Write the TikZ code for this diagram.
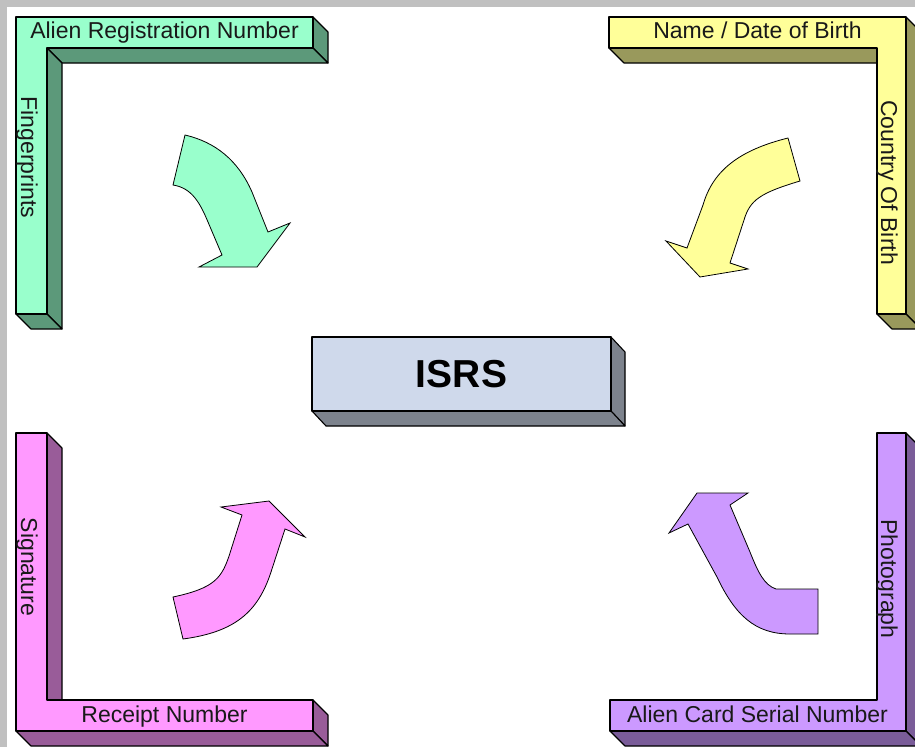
\documentclass[tikz,border=0pt]{standalone}
\usepackage{fontspec}
\setmainfont{Liberation Sans}
% face and side colours of the extruded bars
\definecolor{frameGray}{HTML}{C0C0C0}
\definecolor{mintFace}{HTML}{99FFCC}
\definecolor{mintSide}{HTML}{5C997A}
\definecolor{lemonFace}{HTML}{FFFF99}
\definecolor{lemonSide}{HTML}{99995C}
\definecolor{pinkFace}{HTML}{FF99FF}
\definecolor{pinkSide}{HTML}{995C99}
\definecolor{lilacFace}{HTML}{CC99FF}
\definecolor{lilacSide}{HTML}{7A5C99}
\definecolor{hubFace}{HTML}{CFD9EB}
\definecolor{hubSide}{HTML}{7D838D}
\begin{document}
\begin{tikzpicture}[x=1pt,y=-1pt,
  face/.style={draw=black, line width=1.1pt, line join=round},
  blockarrow/.style={draw=black, line width=0.8pt, line join=miter},
  barlabel/.style={font=\fontsize{23}{27}\selectfont, text=black!90, inner sep=0pt, anchor=base},
  hublabel/.style={font=\fontsize{39}{46}\selectfont\bfseries, text=black, inner sep=0pt}]
\useasboundingbox (0,0) rectangle (915,747);
\clip (0,0) rectangle (915,747);
\fill[frameGray] (0,0) rectangle (915,747);
\fill[white] (7,7) rectangle (915,747);

% ---------- top-left bar (green) ----------
\filldraw[face, fill=mintSide] (313,17) -- (328,32) -- (328,63) -- (313,48) -- cycle;
\filldraw[face, fill=mintSide] (47,48) -- (313,48) -- (328,63) -- (62,63) -- cycle;
\filldraw[face, fill=mintSide] (47,48) -- (62,63) -- (62,329) -- (47,314) -- cycle;
\filldraw[face, fill=mintSide] (16,314) -- (47,314) -- (62,329) -- (31,329) -- cycle;
\filldraw[face, fill=mintFace] (16,17) -- (313,17) -- (313,48) -- (47,48) -- (47,314) -- (16,314) -- cycle;
\node[barlabel] (arn) at (164.5,38.5) {Alien Registration Number};
\node[barlabel, rotate=-90] (fp) at (21,157.5) {Fingerprints};

% ---------- top-right bar (yellow) ----------
\filldraw[face, fill=lemonSide] (609,48) -- (877,48) -- (892,63) -- (624,63) -- cycle;
\filldraw[face, fill=lemonSide] (906,17) -- (921,32) -- (921,329) -- (906,314) -- cycle;
\filldraw[face, fill=lemonSide] (877,314) -- (906,314) -- (921,329) -- (892,329) -- cycle;
\filldraw[face, fill=lemonFace] (609,17) -- (906,17) -- (906,314) -- (877,314) -- (877,48) -- (609,48) -- cycle;
\node[barlabel] (ndob) at (757.5,38.5) {Name / Date of Birth};
\node[barlabel, rotate=-90] (cob) at (881,182.5) {Country Of Birth};

% ---------- bottom-left bar (pink) ----------
\filldraw[face, fill=pinkSide] (47,433) -- (62,448) -- (62,715) -- (47,700) -- cycle;
\filldraw[face, fill=pinkSide] (313,700) -- (328,715) -- (328,746) -- (313,731) -- cycle;
\filldraw[face, fill=pinkSide] (16,731) -- (313,731) -- (328,746) -- (31,746) -- cycle;
\filldraw[face, fill=pinkFace] (16,433) -- (47,433) -- (47,700) -- (313,700) -- (313,731) -- (16,731) -- cycle;
\node[barlabel] (rcpt) at (164.5,722) {Receipt Number};
\node[barlabel, rotate=-90] (sig) at (21,567) {Signature};

% ---------- bottom-right bar (purple) ----------
\filldraw[face, fill=lilacSide] (906,433) -- (921,448) -- (921,746) -- (906,731) -- cycle;
\filldraw[face, fill=lilacSide] (610,731) -- (906,731) -- (921,746) -- (625,746) -- cycle;
\filldraw[face, fill=lilacFace] (877,433) -- (906,433) -- (906,731) -- (610,731) -- (610,700) -- (877,700) -- cycle;
\node[barlabel] (acsn) at (757.5,722) {Alien Card Serial Number};
\node[barlabel, rotate=-90] (photo) at (881,579) {Photograph};

% ---------- central block ----------
\filldraw[face, fill=hubSide] (611,337) -- (625,352) -- (625,426) -- (611,411) -- cycle;
\filldraw[face, fill=hubSide] (312,411) -- (611,411) -- (625,426) -- (326,426) -- cycle;
\filldraw[face, fill=hubFace] (312,337) rectangle (611,411);
\node[hublabel] (isrs) at (461.5,374) {ISRS};

% ---------- curved block arrows ----------
\filldraw[blockarrow, fill=mintFace]
  (185,135) .. controls (215,142) and (238,160) .. (252,192) -- (268,232)
  -- (290,223) -- (257,267) -- (199,267) -- (222,255) -- (208,222)
  .. controls (200,203) and (192,188) .. (173,185) -- cycle;

\filldraw[blockarrow, fill=lemonFace]
  (788,138) .. controls (740,150) and (713,170) .. (703,205) -- (687,248)
  -- (666,241) -- (700,277) -- (748,269) -- (730,263) -- (744,220)
  .. controls (750,200) and (760,193) .. (800,181) -- cycle;

\filldraw[blockarrow, fill=pinkFace]
  (173,597) .. controls (215,588) and (222,578) .. (230,553) -- (242,515)
  -- (221,507) -- (269,501) -- (305,537) -- (285,529) -- (271,572)
  .. controls (258,612) and (235,632) .. (183,639) -- cycle;

\filldraw[blockarrow, fill=lilacFace]
  (818,589) -- (776,589) .. controls (764,585) and (758,572) .. (750,552)
  -- (730,505) -- (748,493) -- (697,493) -- (669,533) -- (688,524)
  -- (717,577) .. controls (735,615) and (755,634) .. (790,634) -- (818,634) -- cycle;
\end{tikzpicture}
\end{document}
